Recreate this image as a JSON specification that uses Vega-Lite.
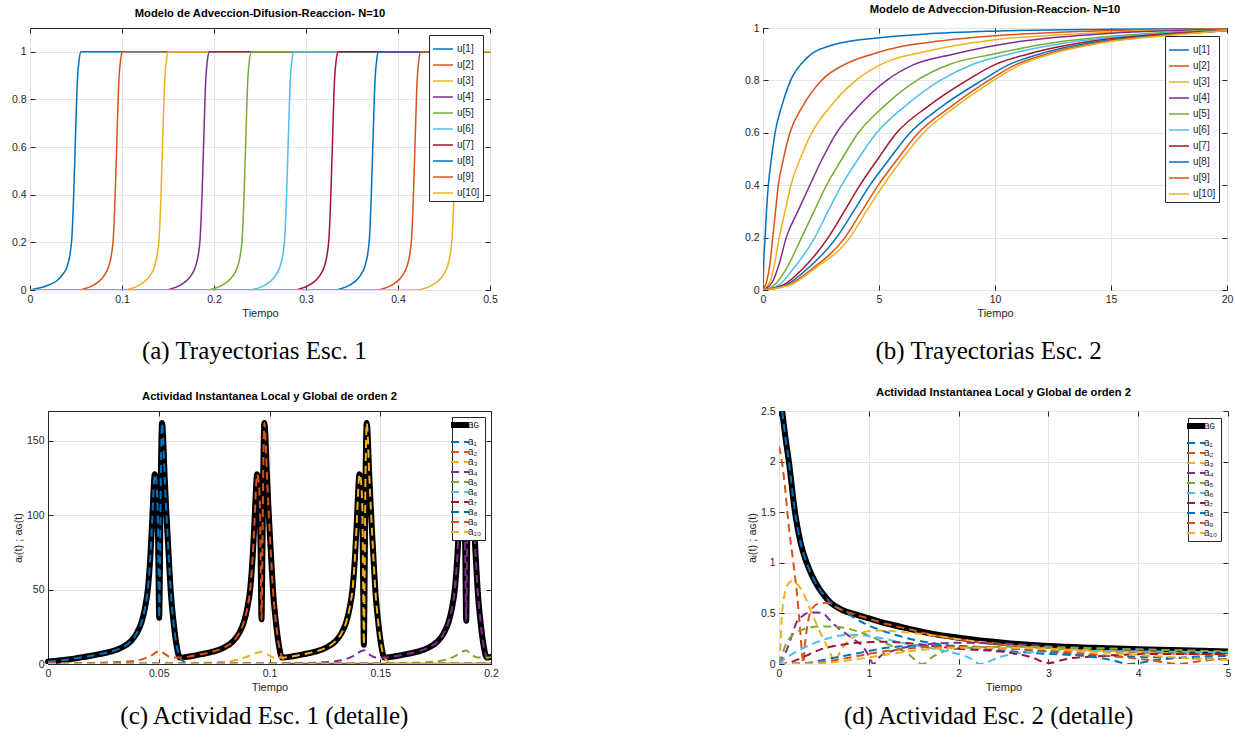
{
"$schema": "https://vega.github.io/schema/vega-lite/v6.json",
"background": "white",
"padding": {"left": 10, "top": 3, "right": 4, "bottom": 2},
"spacing": 22,
"columns": 1,
"align": "none",
"resolve": {"scale": {"color": "independent"}, "legend": {"color": "independent"}},
"config": {
  "font": "Liberation Sans",
  "view": {"stroke": "#262626", "strokeWidth": 1},
  "axis": {"domain": false, "grid": true, "gridColor": "#e4e4e4", "gridWidth": 1, "tickColor": "#262626", "tickSize": -5, "tickWidth": 1, "labelColor": "#262626", "labelFontSize": 10.5, "labelFlush": false, "labelPadding": 9, "titleFontSize": 11, "titleFontWeight": "normal", "titleColor": "#262626", "titlePadding": 3, "domainColor": "#262626", "domainWidth": 1},
  "title": {"fontSize": 11.2, "fontWeight": "bold", "color": "#000000", "offset": 8},
  "legend": {"orient": "top-right", "offset": 7, "padding": 3, "strokeColor": "#262626", "fillColor": "white", "symbolType": "stroke", "symbolSize": 400, "symbolStrokeWidth": 1.5, "labelFontSize": 10, "labelColor": "#262626", "rowPadding": -8.8, "labelOffset": 3}
},
"datasets": {
"A": [
{"s":"u[1]","t":0,"v":0},{"s":"u[1]","t":0.01,"v":0.008},{"s":"u[1]","t":0.0195,"v":0.02},{"s":"u[1]","t":0.0295,"v":0.04},{"s":"u[1]","t":0.0355,"v":0.065},{"s":"u[1]","t":0.0405,"v":0.1},{"s":"u[1]","t":0.0435,"v":0.15},{"s":"u[1]","t":0.0455,"v":0.22},{"s":"u[1]","t":0.0475,"v":0.4},{"s":"u[1]","t":0.0495,"v":0.65},{"s":"u[1]","t":0.0515,"v":0.88},{"s":"u[1]","t":0.0535,"v":0.97},{"s":"u[1]","t":0.0555,"v":1},{"s":"u[1]","t":0.5,"v":1},
{"s":"u[2]","t":0,"v":0},{"s":"u[2]","t":0.0496,"v":0},{"s":"u[2]","t":0.0646,"v":0.012},{"s":"u[2]","t":0.0746,"v":0.035},{"s":"u[2]","t":0.0806,"v":0.06},{"s":"u[2]","t":0.0856,"v":0.1},{"s":"u[2]","t":0.0886,"v":0.15},{"s":"u[2]","t":0.0906,"v":0.22},{"s":"u[2]","t":0.0926,"v":0.4},{"s":"u[2]","t":0.0946,"v":0.65},{"s":"u[2]","t":0.0966,"v":0.88},{"s":"u[2]","t":0.0986,"v":0.97},{"s":"u[2]","t":0.1006,"v":1},{"s":"u[2]","t":0.5,"v":1},
{"s":"u[3]","t":0,"v":0},{"s":"u[3]","t":0.0994,"v":0},{"s":"u[3]","t":0.1144,"v":0.012},{"s":"u[3]","t":0.1244,"v":0.035},{"s":"u[3]","t":0.1304,"v":0.06},{"s":"u[3]","t":0.1354,"v":0.1},{"s":"u[3]","t":0.1384,"v":0.15},{"s":"u[3]","t":0.1404,"v":0.22},{"s":"u[3]","t":0.1424,"v":0.4},{"s":"u[3]","t":0.1444,"v":0.65},{"s":"u[3]","t":0.1464,"v":0.88},{"s":"u[3]","t":0.1484,"v":0.97},{"s":"u[3]","t":0.1504,"v":1},{"s":"u[3]","t":0.5,"v":1},
{"s":"u[4]","t":0,"v":0},{"s":"u[4]","t":0.144,"v":0},{"s":"u[4]","t":0.159,"v":0.012},{"s":"u[4]","t":0.169,"v":0.035},{"s":"u[4]","t":0.175,"v":0.06},{"s":"u[4]","t":0.18,"v":0.1},{"s":"u[4]","t":0.183,"v":0.15},{"s":"u[4]","t":0.185,"v":0.22},{"s":"u[4]","t":0.187,"v":0.4},{"s":"u[4]","t":0.189,"v":0.65},{"s":"u[4]","t":0.191,"v":0.88},{"s":"u[4]","t":0.193,"v":0.97},{"s":"u[4]","t":0.195,"v":1},{"s":"u[4]","t":0.5,"v":1},
{"s":"u[5]","t":0,"v":0},{"s":"u[5]","t":0.1897,"v":0},{"s":"u[5]","t":0.2047,"v":0.012},{"s":"u[5]","t":0.2147,"v":0.035},{"s":"u[5]","t":0.2207,"v":0.06},{"s":"u[5]","t":0.2257,"v":0.1},{"s":"u[5]","t":0.2287,"v":0.15},{"s":"u[5]","t":0.2307,"v":0.22},{"s":"u[5]","t":0.2327,"v":0.4},{"s":"u[5]","t":0.2347,"v":0.65},{"s":"u[5]","t":0.2367,"v":0.88},{"s":"u[5]","t":0.2387,"v":0.97},{"s":"u[5]","t":0.2407,"v":1},{"s":"u[5]","t":0.5,"v":1},
{"s":"u[6]","t":0,"v":0},{"s":"u[6]","t":0.2359,"v":0},{"s":"u[6]","t":0.2509,"v":0.012},{"s":"u[6]","t":0.2609,"v":0.035},{"s":"u[6]","t":0.2669,"v":0.06},{"s":"u[6]","t":0.2719,"v":0.1},{"s":"u[6]","t":0.2749,"v":0.15},{"s":"u[6]","t":0.2769,"v":0.22},{"s":"u[6]","t":0.2789,"v":0.4},{"s":"u[6]","t":0.2809,"v":0.65},{"s":"u[6]","t":0.2829,"v":0.88},{"s":"u[6]","t":0.2849,"v":0.97},{"s":"u[6]","t":0.2869,"v":1},{"s":"u[6]","t":0.5,"v":1},
{"s":"u[7]","t":0,"v":0},{"s":"u[7]","t":0.284,"v":0},{"s":"u[7]","t":0.299,"v":0.012},{"s":"u[7]","t":0.309,"v":0.035},{"s":"u[7]","t":0.315,"v":0.06},{"s":"u[7]","t":0.32,"v":0.1},{"s":"u[7]","t":0.323,"v":0.15},{"s":"u[7]","t":0.325,"v":0.22},{"s":"u[7]","t":0.327,"v":0.4},{"s":"u[7]","t":0.329,"v":0.65},{"s":"u[7]","t":0.331,"v":0.88},{"s":"u[7]","t":0.333,"v":0.97},{"s":"u[7]","t":0.335,"v":1},{"s":"u[7]","t":0.5,"v":1},
{"s":"u[8]","t":0,"v":0},{"s":"u[8]","t":0.328,"v":0},{"s":"u[8]","t":0.343,"v":0.012},{"s":"u[8]","t":0.353,"v":0.035},{"s":"u[8]","t":0.359,"v":0.06},{"s":"u[8]","t":0.364,"v":0.1},{"s":"u[8]","t":0.367,"v":0.15},{"s":"u[8]","t":0.369,"v":0.22},{"s":"u[8]","t":0.371,"v":0.4},{"s":"u[8]","t":0.373,"v":0.65},{"s":"u[8]","t":0.375,"v":0.88},{"s":"u[8]","t":0.377,"v":0.97},{"s":"u[8]","t":0.379,"v":1},{"s":"u[8]","t":0.5,"v":1},
{"s":"u[9]","t":0,"v":0},{"s":"u[9]","t":0.3738,"v":0},{"s":"u[9]","t":0.3888,"v":0.012},{"s":"u[9]","t":0.3988,"v":0.035},{"s":"u[9]","t":0.4048,"v":0.06},{"s":"u[9]","t":0.4098,"v":0.1},{"s":"u[9]","t":0.4128,"v":0.15},{"s":"u[9]","t":0.4148,"v":0.22},{"s":"u[9]","t":0.4168,"v":0.4},{"s":"u[9]","t":0.4188,"v":0.65},{"s":"u[9]","t":0.4208,"v":0.88},{"s":"u[9]","t":0.4228,"v":0.97},{"s":"u[9]","t":0.4248,"v":1},{"s":"u[9]","t":0.5,"v":1},
{"s":"u[10]","t":0,"v":0},{"s":"u[10]","t":0.4178,"v":0},{"s":"u[10]","t":0.4328,"v":0.012},{"s":"u[10]","t":0.4428,"v":0.035},{"s":"u[10]","t":0.4488,"v":0.06},{"s":"u[10]","t":0.4538,"v":0.1},{"s":"u[10]","t":0.4568,"v":0.15},{"s":"u[10]","t":0.4588,"v":0.22},{"s":"u[10]","t":0.4608,"v":0.4},{"s":"u[10]","t":0.4628,"v":0.65},{"s":"u[10]","t":0.4648,"v":0.88},{"s":"u[10]","t":0.4668,"v":0.97},{"s":"u[10]","t":0.4688,"v":1},{"s":"u[10]","t":0.5,"v":1}
],
"B": [
{"s":"u[1]","t":0,"v":0},{"s":"u[1]","t":0.03,"v":0.1},{"s":"u[1]","t":0.09,"v":0.2},{"s":"u[1]","t":0.15,"v":0.3},{"s":"u[1]","t":0.23,"v":0.4},{"s":"u[1]","t":0.36,"v":0.5},{"s":"u[1]","t":0.52,"v":0.6},{"s":"u[1]","t":0.8,"v":0.7},{"s":"u[1]","t":1.19,"v":0.8},{"s":"u[1]","t":1.88,"v":0.885},{"s":"u[1]","t":3,"v":0.935},{"s":"u[1]","t":4.9,"v":0.962},{"s":"u[1]","t":7,"v":0.977},{"s":"u[1]","t":10,"v":0.988},{"s":"u[1]","t":15,"v":0.995},{"s":"u[1]","t":20,"v":0.998},
{"s":"u[2]","t":0,"v":0},{"s":"u[2]","t":0.15,"v":0.03},{"s":"u[2]","t":0.3,"v":0.1},{"s":"u[2]","t":0.42,"v":0.2},{"s":"u[2]","t":0.54,"v":0.3},{"s":"u[2]","t":0.66,"v":0.4},{"s":"u[2]","t":0.88,"v":0.5},{"s":"u[2]","t":1.16,"v":0.6},{"s":"u[2]","t":1.7,"v":0.7},{"s":"u[2]","t":2.52,"v":0.8},{"s":"u[2]","t":3.5,"v":0.86},{"s":"u[2]","t":4.7,"v":0.9},{"s":"u[2]","t":6,"v":0.93},{"s":"u[2]","t":7.6,"v":0.95},{"s":"u[2]","t":10,"v":0.97},{"s":"u[2]","t":15,"v":0.99},{"s":"u[2]","t":20,"v":0.997},
{"s":"u[3]","t":0,"v":0},{"s":"u[3]","t":0.3,"v":0.03},{"s":"u[3]","t":0.5,"v":0.1},{"s":"u[3]","t":0.7,"v":0.2},{"s":"u[3]","t":0.95,"v":0.3},{"s":"u[3]","t":1.2,"v":0.4},{"s":"u[3]","t":1.6,"v":0.5},{"s":"u[3]","t":2.1,"v":0.6},{"s":"u[3]","t":2.9,"v":0.7},{"s":"u[3]","t":4,"v":0.8},{"s":"u[3]","t":5.3,"v":0.87},{"s":"u[3]","t":7,"v":0.91},{"s":"u[3]","t":10,"v":0.955},{"s":"u[3]","t":13,"v":0.975},{"s":"u[3]","t":16,"v":0.988},{"s":"u[3]","t":20,"v":0.996},
{"s":"u[4]","t":0,"v":0},{"s":"u[4]","t":0.4,"v":0.03},{"s":"u[4]","t":0.7,"v":0.1},{"s":"u[4]","t":1,"v":0.2},{"s":"u[4]","t":1.5,"v":0.3},{"s":"u[4]","t":2.02,"v":0.4},{"s":"u[4]","t":2.55,"v":0.5},{"s":"u[4]","t":3.17,"v":0.6},{"s":"u[4]","t":4.1,"v":0.7},{"s":"u[4]","t":5.33,"v":0.8},{"s":"u[4]","t":6.5,"v":0.86},{"s":"u[4]","t":8.2,"v":0.9},{"s":"u[4]","t":11.2,"v":0.95},{"s":"u[4]","t":15,"v":0.98},{"s":"u[4]","t":20,"v":0.995},
{"s":"u[5]","t":0,"v":0},{"s":"u[5]","t":0.5,"v":0.02},{"s":"u[5]","t":1,"v":0.08},{"s":"u[5]","t":1.66,"v":0.2},{"s":"u[5]","t":2.2,"v":0.3},{"s":"u[5]","t":2.74,"v":0.4},{"s":"u[5]","t":3.4,"v":0.5},{"s":"u[5]","t":4.11,"v":0.6},{"s":"u[5]","t":5.2,"v":0.7},{"s":"u[5]","t":6.63,"v":0.8},{"s":"u[5]","t":8,"v":0.86},{"s":"u[5]","t":9.9,"v":0.9},{"s":"u[5]","t":13,"v":0.95},{"s":"u[5]","t":16,"v":0.975},{"s":"u[5]","t":20,"v":0.993},
{"s":"u[6]","t":0,"v":0},{"s":"u[6]","t":0.7,"v":0.02},{"s":"u[6]","t":1.3,"v":0.08},{"s":"u[6]","t":2.23,"v":0.2},{"s":"u[6]","t":2.8,"v":0.3},{"s":"u[6]","t":3.39,"v":0.4},{"s":"u[6]","t":4.1,"v":0.5},{"s":"u[6]","t":4.9,"v":0.6},{"s":"u[6]","t":6.1,"v":0.7},{"s":"u[6]","t":7.64,"v":0.8},{"s":"u[6]","t":9,"v":0.86},{"s":"u[6]","t":10.6,"v":0.9},{"s":"u[6]","t":13.6,"v":0.95},{"s":"u[6]","t":17,"v":0.978},{"s":"u[6]","t":20,"v":0.99},
{"s":"u[7]","t":0,"v":0},{"s":"u[7]","t":0.9,"v":0.02},{"s":"u[7]","t":1.7,"v":0.08},{"s":"u[7]","t":2.81,"v":0.2},{"s":"u[7]","t":3.5,"v":0.3},{"s":"u[7]","t":4.18,"v":0.4},{"s":"u[7]","t":4.95,"v":0.5},{"s":"u[7]","t":5.76,"v":0.6},{"s":"u[7]","t":7.1,"v":0.7},{"s":"u[7]","t":8.79,"v":0.8},{"s":"u[7]","t":10,"v":0.86},{"s":"u[7]","t":11.4,"v":0.9},{"s":"u[7]","t":14.2,"v":0.95},{"s":"u[7]","t":17,"v":0.975},{"s":"u[7]","t":20,"v":0.99},
{"s":"u[8]","t":0,"v":0},{"s":"u[8]","t":1,"v":0.02},{"s":"u[8]","t":1.9,"v":0.08},{"s":"u[8]","t":3.17,"v":0.2},{"s":"u[8]","t":3.9,"v":0.3},{"s":"u[8]","t":4.61,"v":0.4},{"s":"u[8]","t":5.45,"v":0.5},{"s":"u[8]","t":6.34,"v":0.6},{"s":"u[8]","t":7.7,"v":0.7},{"s":"u[8]","t":9.44,"v":0.8},{"s":"u[8]","t":10.6,"v":0.86},{"s":"u[8]","t":11.9,"v":0.9},{"s":"u[8]","t":14.6,"v":0.95},{"s":"u[8]","t":17.5,"v":0.975},{"s":"u[8]","t":20,"v":0.99},
{"s":"u[9]","t":0,"v":0},{"s":"u[9]","t":1.1,"v":0.02},{"s":"u[9]","t":2.1,"v":0.08},{"s":"u[9]","t":3.53,"v":0.2},{"s":"u[9]","t":4.25,"v":0.3},{"s":"u[9]","t":4.97,"v":0.4},{"s":"u[9]","t":5.8,"v":0.5},{"s":"u[9]","t":6.7,"v":0.6},{"s":"u[9]","t":8.1,"v":0.7},{"s":"u[9]","t":9.73,"v":0.8},{"s":"u[9]","t":10.9,"v":0.86},{"s":"u[9]","t":12.2,"v":0.9},{"s":"u[9]","t":14.9,"v":0.95},{"s":"u[9]","t":17.7,"v":0.975},{"s":"u[9]","t":20,"v":0.99},
{"s":"u[10]","t":0,"v":0},{"s":"u[10]","t":1.2,"v":0.02},{"s":"u[10]","t":2.2,"v":0.08},{"s":"u[10]","t":3.75,"v":0.2},{"s":"u[10]","t":4.45,"v":0.3},{"s":"u[10]","t":5.19,"v":0.4},{"s":"u[10]","t":6,"v":0.5},{"s":"u[10]","t":6.92,"v":0.6},{"s":"u[10]","t":8.3,"v":0.7},{"s":"u[10]","t":9.94,"v":0.8},{"s":"u[10]","t":11.1,"v":0.86},{"s":"u[10]","t":12.4,"v":0.9},{"s":"u[10]","t":15.1,"v":0.95},{"s":"u[10]","t":17.9,"v":0.975},{"s":"u[10]","t":20,"v":0.99}
],
"CG": [
{"s":"aɢ","t":0,"v":1.6},{"s":"aɢ","t":0.005,"v":2.3},{"s":"aɢ","t":0.01,"v":3.2},{"s":"aɢ","t":0.014,"v":4.2},
{"s":"aɢ","t":0.0182,"v":5.2},{"s":"aɢ","t":0.0232,"v":6.6},{"s":"aɢ","t":0.0282,"v":8.3},{"s":"aɢ","t":0.0332,"v":11},{"s":"aɢ","t":0.0372,"v":15},{"s":"aɢ","t":0.0402,"v":21},{"s":"aɢ","t":0.0422,"v":28},{"s":"aɢ","t":0.0437,"v":37},{"s":"aɢ","t":0.0452,"v":52},{"s":"aɢ","t":0.0462,"v":72},{"s":"aɢ","t":0.047,"v":95},{"s":"aɢ","t":0.0476,"v":115},{"s":"aɢ","t":0.0482,"v":127.5},
{"s":"aɢ","t":0.0488,"v":124},{"s":"aɢ","t":0.0495,"v":105},{"s":"aɢ","t":0.0499,"v":60},{"s":"aɢ","t":0.0502,"v":31},{"s":"aɢ","t":0.0505,"v":60},{"s":"aɢ","t":0.0509,"v":120},{"s":"aɢ","t":0.0512,"v":150},{"s":"aɢ","t":0.0515,"v":162},{"s":"aɢ","t":0.0519,"v":155},{"s":"aɢ","t":0.0526,"v":128},{"s":"aɢ","t":0.0535,"v":100},{"s":"aɢ","t":0.0544,"v":75},{"s":"aɢ","t":0.0554,"v":49},{"s":"aɢ","t":0.0567,"v":28},{"s":"aɢ","t":0.058,"v":13},{"s":"aɢ","t":0.0595,"v":4.3},
{"s":"aɢ","t":0.0644,"v":5.2},{"s":"aɢ","t":0.0694,"v":6.6},{"s":"aɢ","t":0.0744,"v":8.3},{"s":"aɢ","t":0.0794,"v":11},{"s":"aɢ","t":0.0834,"v":15},{"s":"aɢ","t":0.0864,"v":21},{"s":"aɢ","t":0.0884,"v":28},{"s":"aɢ","t":0.0899,"v":37},{"s":"aɢ","t":0.0914,"v":52},{"s":"aɢ","t":0.0924,"v":72},{"s":"aɢ","t":0.0932,"v":95},{"s":"aɢ","t":0.0938,"v":115},{"s":"aɢ","t":0.0944,"v":127.5},
{"s":"aɢ","t":0.095,"v":124},{"s":"aɢ","t":0.0957,"v":105},{"s":"aɢ","t":0.0961,"v":60},{"s":"aɢ","t":0.0964,"v":30},{"s":"aɢ","t":0.0967,"v":60},{"s":"aɢ","t":0.0971,"v":120},{"s":"aɢ","t":0.0974,"v":150},{"s":"aɢ","t":0.0977,"v":162},{"s":"aɢ","t":0.0981,"v":155},{"s":"aɢ","t":0.0988,"v":128},{"s":"aɢ","t":0.0997,"v":100},{"s":"aɢ","t":0.1006,"v":75},{"s":"aɢ","t":0.1016,"v":49},{"s":"aɢ","t":0.1029,"v":28},{"s":"aɢ","t":0.1042,"v":13},{"s":"aɢ","t":0.1057,"v":4.3},
{"s":"aɢ","t":0.1106,"v":5.2},{"s":"aɢ","t":0.1156,"v":6.6},{"s":"aɢ","t":0.1206,"v":8.3},{"s":"aɢ","t":0.1256,"v":11},{"s":"aɢ","t":0.1296,"v":15},{"s":"aɢ","t":0.1326,"v":21},{"s":"aɢ","t":0.1346,"v":28},{"s":"aɢ","t":0.1361,"v":37},{"s":"aɢ","t":0.1376,"v":52},{"s":"aɢ","t":0.1386,"v":72},{"s":"aɢ","t":0.1394,"v":95},{"s":"aɢ","t":0.14,"v":115},{"s":"aɢ","t":0.1406,"v":127.5},
{"s":"aɢ","t":0.1412,"v":124},{"s":"aɢ","t":0.1419,"v":105},{"s":"aɢ","t":0.1423,"v":50},{"s":"aɢ","t":0.1426,"v":13},{"s":"aɢ","t":0.1429,"v":50},{"s":"aɢ","t":0.1433,"v":120},{"s":"aɢ","t":0.1436,"v":150},{"s":"aɢ","t":0.1439,"v":162},{"s":"aɢ","t":0.1443,"v":155},{"s":"aɢ","t":0.145,"v":128},{"s":"aɢ","t":0.1459,"v":100},{"s":"aɢ","t":0.1468,"v":75},{"s":"aɢ","t":0.1478,"v":49},{"s":"aɢ","t":0.1491,"v":28},{"s":"aɢ","t":0.1504,"v":13},{"s":"aɢ","t":0.1519,"v":4.3},
{"s":"aɢ","t":0.1568,"v":5.2},{"s":"aɢ","t":0.1618,"v":6.6},{"s":"aɢ","t":0.1668,"v":8.3},{"s":"aɢ","t":0.1718,"v":11},{"s":"aɢ","t":0.1758,"v":15},{"s":"aɢ","t":0.1788,"v":21},{"s":"aɢ","t":0.1808,"v":28},{"s":"aɢ","t":0.1823,"v":37},{"s":"aɢ","t":0.1838,"v":52},{"s":"aɢ","t":0.1848,"v":72},{"s":"aɢ","t":0.1856,"v":95},{"s":"aɢ","t":0.1862,"v":115},{"s":"aɢ","t":0.1868,"v":127.5},
{"s":"aɢ","t":0.1874,"v":124},{"s":"aɢ","t":0.1881,"v":105},{"s":"aɢ","t":0.1885,"v":60},{"s":"aɢ","t":0.1888,"v":29},{"s":"aɢ","t":0.1891,"v":60},{"s":"aɢ","t":0.1895,"v":120},{"s":"aɢ","t":0.1898,"v":150},{"s":"aɢ","t":0.1901,"v":162},{"s":"aɢ","t":0.1905,"v":155},{"s":"aɢ","t":0.1912,"v":128},{"s":"aɢ","t":0.1921,"v":100},{"s":"aɢ","t":0.193,"v":75},{"s":"aɢ","t":0.194,"v":49},{"s":"aɢ","t":0.1953,"v":28},{"s":"aɢ","t":0.1966,"v":13},{"s":"aɢ","t":0.1981,"v":4.3},{"s":"aɢ","t":0.2,"v":4.8}
],
"CA": [
{"s":"a₁","t":0,"v":1.6},{"s":"a₁","t":0.005,"v":2.3},{"s":"a₁","t":0.01,"v":3.2},{"s":"a₁","t":0.014,"v":4.2},
{"s":"a₁","t":0.0182,"v":5.2},{"s":"a₁","t":0.0232,"v":6.6},{"s":"a₁","t":0.0282,"v":8.3},{"s":"a₁","t":0.0332,"v":11},{"s":"a₁","t":0.0372,"v":15},{"s":"a₁","t":0.0402,"v":21},{"s":"a₁","t":0.0422,"v":28},{"s":"a₁","t":0.0437,"v":37},{"s":"a₁","t":0.0452,"v":52},{"s":"a₁","t":0.0462,"v":72},{"s":"a₁","t":0.047,"v":95},{"s":"a₁","t":0.0476,"v":115},{"s":"a₁","t":0.0482,"v":127.5},
{"s":"a₁","t":0.0488,"v":124},{"s":"a₁","t":0.0495,"v":105},{"s":"a₁","t":0.0499,"v":60},{"s":"a₁","t":0.0502,"v":31},{"s":"a₁","t":0.0505,"v":60},{"s":"a₁","t":0.0509,"v":120},{"s":"a₁","t":0.0512,"v":150},{"s":"a₁","t":0.0515,"v":162},{"s":"a₁","t":0.0519,"v":155},{"s":"a₁","t":0.0526,"v":128},{"s":"a₁","t":0.0535,"v":100},{"s":"a₁","t":0.0544,"v":75},{"s":"a₁","t":0.0554,"v":49},{"s":"a₁","t":0.0567,"v":28},{"s":"a₁","t":0.058,"v":13},{"s":"a₁","t":0.0595,"v":4.3},
{"s":"a₁","t":0.0605,"v":2.5},{"s":"a₁","t":0.062,"v":0.8},{"s":"a₁","t":0.065,"v":0.2},{"s":"a₁","t":0.2,"v":0.1},
{"s":"a₂","t":0,"v":0.3},{"s":"a₂","t":0.02,"v":0.7},{"s":"a₂","t":0.03,"v":1.2},{"s":"a₂","t":0.036,"v":1.6},{"s":"a₂","t":0.0438,"v":3.8},{"s":"a₂","t":0.047,"v":6},{"s":"a₂","t":0.0502,"v":8.8},{"s":"a₂","t":0.053,"v":6.5},{"s":"a₂","t":0.0558,"v":4.3},{"s":"a₂","t":0.0595,"v":4.3},
{"s":"a₂","t":0.0644,"v":5.2},{"s":"a₂","t":0.0694,"v":6.6},{"s":"a₂","t":0.0744,"v":8.3},{"s":"a₂","t":0.0794,"v":11},{"s":"a₂","t":0.0834,"v":15},{"s":"a₂","t":0.0864,"v":21},{"s":"a₂","t":0.0884,"v":28},{"s":"a₂","t":0.0899,"v":37},{"s":"a₂","t":0.0914,"v":52},{"s":"a₂","t":0.0924,"v":72},{"s":"a₂","t":0.0932,"v":95},{"s":"a₂","t":0.0938,"v":115},{"s":"a₂","t":0.0944,"v":127.5},
{"s":"a₂","t":0.095,"v":124},{"s":"a₂","t":0.0957,"v":105},{"s":"a₂","t":0.0961,"v":60},{"s":"a₂","t":0.0964,"v":30},{"s":"a₂","t":0.0967,"v":60},{"s":"a₂","t":0.0971,"v":120},{"s":"a₂","t":0.0974,"v":150},{"s":"a₂","t":0.0977,"v":162},{"s":"a₂","t":0.0981,"v":155},{"s":"a₂","t":0.0988,"v":128},{"s":"a₂","t":0.0997,"v":100},{"s":"a₂","t":0.1006,"v":75},{"s":"a₂","t":0.1016,"v":49},{"s":"a₂","t":0.1029,"v":28},{"s":"a₂","t":0.1042,"v":13},{"s":"a₂","t":0.1057,"v":4.3},
{"s":"a₂","t":0.1067,"v":2.5},{"s":"a₂","t":0.108,"v":0.8},{"s":"a₂","t":0.111,"v":0.2},{"s":"a₂","t":0.2,"v":0.1},
{"s":"a₃","t":0,"v":0.1},{"s":"a₃","t":0.05,"v":0.3},{"s":"a₃","t":0.07,"v":0.8},{"s":"a₃","t":0.08,"v":1.5},{"s":"a₃","t":0.086,"v":3},{"s":"a₃","t":0.091,"v":5.5},{"s":"a₃","t":0.0964,"v":8.3},{"s":"a₃","t":0.099,"v":6.5},{"s":"a₃","t":0.102,"v":4.3},{"s":"a₃","t":0.1057,"v":4.3},
{"s":"a₃","t":0.1106,"v":5.2},{"s":"a₃","t":0.1156,"v":6.6},{"s":"a₃","t":0.1206,"v":8.3},{"s":"a₃","t":0.1256,"v":11},{"s":"a₃","t":0.1296,"v":15},{"s":"a₃","t":0.1326,"v":21},{"s":"a₃","t":0.1346,"v":28},{"s":"a₃","t":0.1361,"v":37},{"s":"a₃","t":0.1376,"v":52},{"s":"a₃","t":0.1386,"v":72},{"s":"a₃","t":0.1394,"v":95},{"s":"a₃","t":0.14,"v":115},{"s":"a₃","t":0.1406,"v":127.5},
{"s":"a₃","t":0.1412,"v":124},{"s":"a₃","t":0.1419,"v":105},{"s":"a₃","t":0.1423,"v":50},{"s":"a₃","t":0.1426,"v":13},{"s":"a₃","t":0.1429,"v":50},{"s":"a₃","t":0.1433,"v":120},{"s":"a₃","t":0.1436,"v":150},{"s":"a₃","t":0.1439,"v":162},{"s":"a₃","t":0.1443,"v":155},{"s":"a₃","t":0.145,"v":128},{"s":"a₃","t":0.1459,"v":100},{"s":"a₃","t":0.1468,"v":75},{"s":"a₃","t":0.1478,"v":49},{"s":"a₃","t":0.1491,"v":28},{"s":"a₃","t":0.1504,"v":13},{"s":"a₃","t":0.1519,"v":4.3},
{"s":"a₃","t":0.1529,"v":2.5},{"s":"a₃","t":0.1544,"v":0.8},{"s":"a₃","t":0.1574,"v":0.2},{"s":"a₃","t":0.2,"v":0.1},
{"s":"a₄","t":0,"v":0},{"s":"a₄","t":0.1,"v":0.3},{"s":"a₄","t":0.12,"v":0.8},{"s":"a₄","t":0.128,"v":1.5},{"s":"a₄","t":0.134,"v":3},{"s":"a₄","t":0.138,"v":5.5},{"s":"a₄","t":0.1426,"v":9.3},{"s":"a₄","t":0.145,"v":6.5},{"s":"a₄","t":0.148,"v":4.3},{"s":"a₄","t":0.1519,"v":4.3},
{"s":"a₄","t":0.1568,"v":5.2},{"s":"a₄","t":0.1618,"v":6.6},{"s":"a₄","t":0.1668,"v":8.3},{"s":"a₄","t":0.1718,"v":11},{"s":"a₄","t":0.1758,"v":15},{"s":"a₄","t":0.1788,"v":21},{"s":"a₄","t":0.1808,"v":28},{"s":"a₄","t":0.1823,"v":37},{"s":"a₄","t":0.1838,"v":52},{"s":"a₄","t":0.1848,"v":72},{"s":"a₄","t":0.1856,"v":95},{"s":"a₄","t":0.1862,"v":115},{"s":"a₄","t":0.1868,"v":127.5},
{"s":"a₄","t":0.1874,"v":124},{"s":"a₄","t":0.1881,"v":105},{"s":"a₄","t":0.1885,"v":60},{"s":"a₄","t":0.1888,"v":29},{"s":"a₄","t":0.1891,"v":60},{"s":"a₄","t":0.1895,"v":120},{"s":"a₄","t":0.1898,"v":150},{"s":"a₄","t":0.1901,"v":162},{"s":"a₄","t":0.1905,"v":155},{"s":"a₄","t":0.1912,"v":128},{"s":"a₄","t":0.1921,"v":100},{"s":"a₄","t":0.193,"v":75},{"s":"a₄","t":0.194,"v":49},{"s":"a₄","t":0.1953,"v":28},{"s":"a₄","t":0.1966,"v":13},{"s":"a₄","t":0.1981,"v":4.3},
{"s":"a₄","t":0.1991,"v":2.5},{"s":"a₄","t":0.2,"v":1.5},
{"s":"a₅","t":0,"v":0},{"s":"a₅","t":0.15,"v":0.3},{"s":"a₅","t":0.165,"v":0.8},{"s":"a₅","t":0.174,"v":1.5},{"s":"a₅","t":0.18,"v":3},{"s":"a₅","t":0.184,"v":5.5},{"s":"a₅","t":0.1888,"v":9},{"s":"a₅","t":0.191,"v":6.5},{"s":"a₅","t":0.194,"v":4.3},{"s":"a₅","t":0.1981,"v":4.3},{"s":"a₅","t":0.2,"v":4.8},
{"s":"a₆","t":0,"v":0.2},{"s":"a₆","t":0.2,"v":0.2},
{"s":"a₇","t":0,"v":0.2},{"s":"a₇","t":0.2,"v":0.2},
{"s":"a₈","t":0,"v":0.2},{"s":"a₈","t":0.2,"v":0.2},
{"s":"a₉","t":0,"v":0.2},{"s":"a₉","t":0.2,"v":0.2},
{"s":"a₁₀","t":0,"v":0.2},{"s":"a₁₀","t":0.2,"v":0.2}
],
"DG": [
{"s":"aɢ","t":0.035,"v":2.5},{"s":"aɢ","t":0.07,"v":2.25},{"s":"aɢ","t":0.11,"v":2.0},{"s":"aɢ","t":0.178,"v":1.5},{"s":"aɢ","t":0.24,"v":1.2},{"s":"aɢ","t":0.308,"v":1.0},{"s":"aɢ","t":0.37,"v":0.87},{"s":"aɢ","t":0.438,"v":0.758},{"s":"aɢ","t":0.5,"v":0.68},{"s":"aɢ","t":0.568,"v":0.611},{"s":"aɢ","t":0.64,"v":0.565},{"s":"aɢ","t":0.716,"v":0.529},{"s":"aɢ","t":0.85,"v":0.49},{"s":"aɢ","t":1.013,"v":0.448},{"s":"aɢ","t":1.2,"v":0.4},{"s":"aɢ","t":1.44,"v":0.35},{"s":"aɢ","t":1.7,"v":0.3},{"s":"aɢ","t":2,"v":0.26},{"s":"aɢ","t":2.5,"v":0.21},{"s":"aɢ","t":3,"v":0.177},{"s":"aɢ","t":3.5,"v":0.16},{"s":"aɢ","t":4,"v":0.147},{"s":"aɢ","t":4.5,"v":0.135},{"s":"aɢ","t":5,"v":0.124}
],
"DA": [
{"s":"a₁","t":0.035,"v":2.5},{"s":"a₁","t":0.07,"v":2.25},{"s":"a₁","t":0.11,"v":2.0},{"s":"a₁","t":0.178,"v":1.5},{"s":"a₁","t":0.24,"v":1.2},{"s":"a₁","t":0.308,"v":1.0},{"s":"a₁","t":0.37,"v":0.87},{"s":"a₁","t":0.438,"v":0.758},{"s":"a₁","t":0.5,"v":0.68},{"s":"a₁","t":0.568,"v":0.611},{"s":"a₁","t":0.64,"v":0.565},{"s":"a₁","t":0.716,"v":0.529},{"s":"a₁","t":0.85,"v":0.45},{"s":"a₁","t":1,"v":0.38},{"s":"a₁","t":1.25,"v":0.3},{"s":"a₁","t":1.5,"v":0.24},{"s":"a₁","t":2,"v":0.17},{"s":"a₁","t":2.5,"v":0.13},{"s":"a₁","t":3,"v":0.1},{"s":"a₁","t":4,"v":0.07},{"s":"a₁","t":5,"v":0.05},
{"s":"a₂","t":0,"v":2.15},{"s":"a₂","t":0.011,"v":2.11},{"s":"a₂","t":0.067,"v":1.75},{"s":"a₂","t":0.104,"v":1.4},{"s":"a₂","t":0.16,"v":1.0},{"s":"a₂","t":0.2,"v":0.7},{"s":"a₂","t":0.23,"v":0.4},{"s":"a₂","t":0.255,"v":0.12},{"s":"a₂","t":0.27,"v":0.01},{"s":"a₂","t":0.29,"v":0.2},{"s":"a₂","t":0.33,"v":0.45},{"s":"a₂","t":0.38,"v":0.56},{"s":"a₂","t":0.45,"v":0.6},{"s":"a₂","t":0.55,"v":0.605},{"s":"a₂","t":0.64,"v":0.56},{"s":"a₂","t":0.716,"v":0.527},{"s":"a₂","t":0.85,"v":0.487},{"s":"a₂","t":1.013,"v":0.445},{"s":"a₂","t":1.2,"v":0.395},{"s":"a₂","t":1.44,"v":0.345},{"s":"a₂","t":1.7,"v":0.29},{"s":"a₂","t":2,"v":0.245},{"s":"a₂","t":2.5,"v":0.19},{"s":"a₂","t":3,"v":0.155},{"s":"a₂","t":3.5,"v":0.13},{"s":"a₂","t":4,"v":0.115},{"s":"a₂","t":4.5,"v":0.1},{"s":"a₂","t":5,"v":0.09},
{"s":"a₃","t":0,"v":0},{"s":"a₃","t":0.011,"v":0.1},{"s":"a₃","t":0.03,"v":0.45},{"s":"a₃","t":0.06,"v":0.68},{"s":"a₃","t":0.1,"v":0.79},{"s":"a₃","t":0.15,"v":0.82},{"s":"a₃","t":0.2,"v":0.79},{"s":"a₃","t":0.26,"v":0.72},{"s":"a₃","t":0.32,"v":0.6},{"s":"a₃","t":0.38,"v":0.47},{"s":"a₃","t":0.44,"v":0.35},{"s":"a₃","t":0.5,"v":0.24},{"s":"a₃","t":0.56,"v":0.13},{"s":"a₃","t":0.62,"v":0.02},{"s":"a₃","t":0.68,"v":0.12},{"s":"a₃","t":0.76,"v":0.22},{"s":"a₃","t":0.86,"v":0.28},{"s":"a₃","t":0.97,"v":0.32},{"s":"a₃","t":1.1,"v":0.33},{"s":"a₃","t":1.25,"v":0.325},{"s":"a₃","t":1.45,"v":0.31},{"s":"a₃","t":1.7,"v":0.285},{"s":"a₃","t":2,"v":0.245},{"s":"a₃","t":2.5,"v":0.195},{"s":"a₃","t":3,"v":0.16},{"s":"a₃","t":3.5,"v":0.135},{"s":"a₃","t":4,"v":0.12},{"s":"a₃","t":4.5,"v":0.105},{"s":"a₃","t":5,"v":0.095},
{"s":"a₄","t":0,"v":0},{"s":"a₄","t":0.04,"v":0.06},{"s":"a₄","t":0.1,"v":0.17},{"s":"a₄","t":0.15,"v":0.3},{"s":"a₄","t":0.19,"v":0.4},{"s":"a₄","t":0.27,"v":0.48},{"s":"a₄","t":0.35,"v":0.51},{"s":"a₄","t":0.42,"v":0.51},{"s":"a₄","t":0.49,"v":0.5},{"s":"a₄","t":0.56,"v":0.44},{"s":"a₄","t":0.64,"v":0.37},{"s":"a₄","t":0.73,"v":0.31},{"s":"a₄","t":0.82,"v":0.25},{"s":"a₄","t":0.935,"v":0.17},{"s":"a₄","t":1,"v":0.08},{"s":"a₄","t":1.05,"v":0},{"s":"a₄","t":1.12,"v":0.07},{"s":"a₄","t":1.3,"v":0.14},{"s":"a₄","t":1.6,"v":0.19},{"s":"a₄","t":2,"v":0.21},{"s":"a₄","t":2.5,"v":0.2},{"s":"a₄","t":3,"v":0.175},{"s":"a₄","t":3.5,"v":0.158},{"s":"a₄","t":4,"v":0.145},{"s":"a₄","t":4.5,"v":0.133},{"s":"a₄","t":5,"v":0.122},
{"s":"a₅","t":0,"v":0},{"s":"a₅","t":0.03,"v":0.08},{"s":"a₅","t":0.08,"v":0.2},{"s":"a₅","t":0.17,"v":0.3},{"s":"a₅","t":0.3,"v":0.35},{"s":"a₅","t":0.45,"v":0.37},{"s":"a₅","t":0.6,"v":0.37},{"s":"a₅","t":0.71,"v":0.36},{"s":"a₅","t":0.85,"v":0.33},{"s":"a₅","t":1,"v":0.28},{"s":"a₅","t":1.2,"v":0.2},{"s":"a₅","t":1.42,"v":0.11},{"s":"a₅","t":1.6,"v":0},{"s":"a₅","t":1.71,"v":0.07},{"s":"a₅","t":1.86,"v":0.13},{"s":"a₅","t":2.1,"v":0.16},{"s":"a₅","t":2.5,"v":0.17},{"s":"a₅","t":3,"v":0.165},{"s":"a₅","t":3.5,"v":0.155},{"s":"a₅","t":4,"v":0.145},{"s":"a₅","t":4.5,"v":0.135},{"s":"a₅","t":5,"v":0.123},
{"s":"a₆","t":0,"v":0},{"s":"a₆","t":0.06,"v":0.05},{"s":"a₆","t":0.15,"v":0.1},{"s":"a₆","t":0.3,"v":0.17},{"s":"a₆","t":0.53,"v":0.25},{"s":"a₆","t":0.79,"v":0.29},{"s":"a₆","t":1.05,"v":0.27},{"s":"a₆","t":1.42,"v":0.2},{"s":"a₆","t":1.79,"v":0.14},{"s":"a₆","t":2.12,"v":0.06},{"s":"a₆","t":2.24,"v":0},{"s":"a₆","t":2.46,"v":0.07},{"s":"a₆","t":2.72,"v":0.11},{"s":"a₆","t":3.2,"v":0.13},{"s":"a₆","t":4,"v":0.125},{"s":"a₆","t":5,"v":0.115},
{"s":"a₇","t":0,"v":0},{"s":"a₇","t":0.1,"v":0.01},{"s":"a₇","t":0.25,"v":0.06},{"s":"a₇","t":0.45,"v":0.14},{"s":"a₇","t":0.7,"v":0.19},{"s":"a₇","t":0.95,"v":0.215},{"s":"a₇","t":1.2,"v":0.22},{"s":"a₇","t":1.5,"v":0.2},{"s":"a₇","t":2,"v":0.15},{"s":"a₇","t":2.5,"v":0.12},{"s":"a₇","t":2.8,"v":0.07},{"s":"a₇","t":3,"v":0.01},{"s":"a₇","t":3.2,"v":0.05},{"s":"a₇","t":3.6,"v":0.08},{"s":"a₇","t":4.2,"v":0.1},{"s":"a₇","t":5,"v":0.1},
{"s":"a₈","t":0,"v":0},{"s":"a₈","t":0.3,"v":0.01},{"s":"a₈","t":0.6,"v":0.06},{"s":"a₈","t":0.9,"v":0.11},{"s":"a₈","t":1.2,"v":0.16},{"s":"a₈","t":1.5,"v":0.18},{"s":"a₈","t":1.9,"v":0.18},{"s":"a₈","t":2.4,"v":0.16},{"s":"a₈","t":2.9,"v":0.13},{"s":"a₈","t":3.4,"v":0.08},{"s":"a₈","t":3.7,"v":0.04},{"s":"a₈","t":3.9,"v":0},{"s":"a₈","t":4.2,"v":0.04},{"s":"a₈","t":4.6,"v":0.07},{"s":"a₈","t":5,"v":0.08},
{"s":"a₉","t":0,"v":0},{"s":"a₉","t":0.4,"v":0.01},{"s":"a₉","t":0.7,"v":0.05},{"s":"a₉","t":1,"v":0.1},{"s":"a₉","t":1.4,"v":0.15},{"s":"a₉","t":1.8,"v":0.17},{"s":"a₉","t":2.3,"v":0.165},{"s":"a₉","t":2.8,"v":0.14},{"s":"a₉","t":3.3,"v":0.11},{"s":"a₉","t":3.8,"v":0.07},{"s":"a₉","t":4.2,"v":0.03},{"s":"a₉","t":4.45,"v":0},{"s":"a₉","t":4.7,"v":0.03},{"s":"a₉","t":5,"v":0.05},
{"s":"a₁₀","t":0,"v":0},{"s":"a₁₀","t":0.5,"v":0.01},{"s":"a₁₀","t":0.8,"v":0.04},{"s":"a₁₀","t":1.1,"v":0.08},{"s":"a₁₀","t":1.5,"v":0.13},{"s":"a₁₀","t":2,"v":0.16},{"s":"a₁₀","t":2.5,"v":0.16},{"s":"a₁₀","t":3,"v":0.15},{"s":"a₁₀","t":3.5,"v":0.12},{"s":"a₁₀","t":4,"v":0.09},{"s":"a₁₀","t":4.5,"v":0.06},{"s":"a₁₀","t":5,"v":0.04}
]
},
"concat": [
{"hconcat": [
  {"title": {"text": "(a) Trayectorias Esc. 1", "orient": "bottom", "font": "Liberation Serif", "fontSize": 25, "fontWeight": "normal", "color": "#000000", "offset": 20, "anchor": "middle"},
   "resolve": {"scale": {"color": "independent"}, "legend": {"color": "independent"}},
   "vconcat": [{
    "width": 460, "height": 262,
    "title": {"text": "Modelo de Adveccion-Difusion-Reaccion- N=10"},
    "layer": [
     {"data": {"name": "A"},
      "mark": {"type": "line", "strokeWidth": 1.5, "interpolate": "monotone", "clip": true},
      "encoding": {
       "x": {"field": "t", "type": "quantitative", "scale": {"domain": [0, 0.5], "nice": false}, "axis": {"title": "Tiempo", "values": [0, 0.1, 0.2, 0.3, 0.4, 0.5], "format": "~r"}},
       "y": {"field": "v", "type": "quantitative", "scale": {"domain": [0, 1.1], "nice": false}, "axis": {"title": null, "values": [0, 0.2, 0.4, 0.6, 0.8, 1], "format": "~r"}},
       "color": {"field": "s", "type": "nominal", "scale": {"domain": ["u[1]","u[2]","u[3]","u[4]","u[5]","u[6]","u[7]","u[8]","u[9]","u[10]"], "range": ["#0072BD","#D95319","#EDB120","#7E2F8E","#77AC30","#4DBEEE","#A2142F","#0072BD","#D95319","#EDB120"]}, "legend": {"title": null}}
      }},
     {"data": {"name": "A"},
      "mark": {"type": "point", "opacity": 0},
      "encoding": {
       "x": {"field": "t", "type": "quantitative", "scale": {"domain": [0, 0.5], "nice": false}, "axis": {"orient": "top", "title": null, "labels": false, "grid": false, "values": [0, 0.1, 0.2, 0.3, 0.4, 0.5]}},
       "y": {"field": "v", "type": "quantitative", "scale": {"domain": [0, 1.1], "nice": false}, "axis": {"orient": "right", "title": null, "labels": false, "grid": false, "values": [0, 0.2, 0.4, 0.6, 0.8, 1]}}
      }}
    ],
    "resolve": {"axis": {"x": "independent", "y": "independent"}}
   }]
  },
  {"title": {"text": "(b) Trayectorias Esc. 2", "orient": "bottom", "font": "Liberation Serif", "fontSize": 25, "fontWeight": "normal", "color": "#000000", "offset": 20, "anchor": "middle"},
   "resolve": {"scale": {"color": "independent"}, "legend": {"color": "independent"}},
   "vconcat": [{
    "width": 464, "height": 262,
    "title": {"text": "Modelo de Adveccion-Difusion-Reaccion- N=10"},
    "layer": [
     {"data": {"name": "B"},
      "mark": {"type": "line", "strokeWidth": 1.5, "interpolate": "monotone", "clip": true},
      "encoding": {
       "x": {"field": "t", "type": "quantitative", "scale": {"domain": [0, 20], "nice": false}, "axis": {"title": "Tiempo", "values": [0, 5, 10, 15, 20], "format": "~r"}},
       "y": {"field": "v", "type": "quantitative", "scale": {"domain": [0, 1], "nice": false}, "axis": {"title": null, "values": [0, 0.2, 0.4, 0.6, 0.8, 1], "format": "~r"}},
       "color": {"field": "s", "type": "nominal", "scale": {"domain": ["u[1]","u[2]","u[3]","u[4]","u[5]","u[6]","u[7]","u[8]","u[9]","u[10]"], "range": ["#0072BD","#D95319","#EDB120","#7E2F8E","#77AC30","#4DBEEE","#A2142F","#0072BD","#D95319","#EDB120"]}, "legend": {"title": null, "offset": 8}}
      }},
     {"data": {"name": "B"},
      "mark": {"type": "point", "opacity": 0},
      "encoding": {
       "x": {"field": "t", "type": "quantitative", "scale": {"domain": [0, 20], "nice": false}, "axis": {"orient": "top", "title": null, "labels": false, "grid": false, "values": [0, 5, 10, 15, 20]}},
       "y": {"field": "v", "type": "quantitative", "scale": {"domain": [0, 1], "nice": false}, "axis": {"orient": "right", "title": null, "labels": false, "grid": false, "values": [0, 0.2, 0.4, 0.6, 0.8, 1]}}
      }}
    ],
    "resolve": {"axis": {"x": "independent", "y": "independent"}}
   }]
  }
 ], "spacing": 245, "resolve": {"scale": {"color": "independent"}, "legend": {"color": "independent"}}},
{"hconcat": [
  {"title": {"text": "(c) Actividad Esc. 1 (detalle)", "orient": "bottom", "font": "Liberation Serif", "fontSize": 25, "fontWeight": "normal", "color": "#000000", "offset": 11, "anchor": "middle", "dx": 9},
   "resolve": {"scale": {"color": "independent"}, "legend": {"color": "independent"}},
   "vconcat": [{
    "width": 461, "height": 253,
    "view": {"stroke": null},
    "title": {"text": "Actividad Instantanea Local y Global de orden 2", "dx": 9},
    "layer": [
     {"data": {"name": "CG"},
      "mark": {"type": "line", "strokeWidth": 6, "interpolate": "monotone", "clip": true, "strokeJoin": "round", "strokeCap": "round"},
      "encoding": {
       "x": {"field": "t", "type": "quantitative", "scale": {"domain": [0, 0.2], "nice": false, "range": [18, 461]}, "axis": {"title": "Tiempo", "values": [0, 0.05, 0.1, 0.15, 0.2], "format": "~r", "domain": true}},
       "y": {"field": "v", "type": "quantitative", "scale": {"domain": [0, 170], "nice": false}, "axis": {"title": "aᵢ(t) ; aɢ(t)", "values": [0, 50, 100, 150], "format": "~r", "offset": -18, "domain": true}},
       "color": {"field": "s", "type": "nominal", "scale": {"domain": ["aɢ","a₁","a₂","a₃","a₄","a₅","a₆","a₇","a₈","a₉","a₁₀"], "range": ["#000000","#0072BD","#D95319","#EDB120","#7E2F8E","#77AC30","#4DBEEE","#A2142F","#0072BD","#D95319","#EDB120"]},
        "legend": {"title": null, "offset": 6, "padding": 3, "symbolSize": 324, "rowPadding": -3.3, "encode": {"symbols": {"update": {"strokeWidth": {"signal": "datum.value === 'aɢ' ? 6 : 2"}, "strokeDash": {"signal": "datum.value === 'aɢ' ? [1,0] : [8,5]"}}}}}}
      }},
     {"data": {"name": "CA"},
      "mark": {"type": "line", "strokeWidth": 2, "strokeDash": [8, 5], "interpolate": "monotone", "clip": true},
      "encoding": {
       "x": {"field": "t", "type": "quantitative", "scale": {"domain": [0, 0.2], "nice": false, "range": [18, 461]}, "axis": null},
       "y": {"field": "v", "type": "quantitative", "scale": {"domain": [0, 170], "nice": false}, "axis": null},
       "color": {"field": "s", "type": "nominal"}
      }},
     {"data": {"name": "CG"},
      "mark": {"type": "point", "opacity": 0},
      "encoding": {
       "x": {"field": "t", "type": "quantitative", "scale": {"domain": [0, 0.2], "nice": false, "range": [18, 461]}, "axis": {"orient": "top", "title": null, "labels": false, "grid": false, "values": [0, 0.05, 0.1, 0.15, 0.2], "domain": true}},
       "y": {"field": "v", "type": "quantitative", "scale": {"domain": [0, 170], "nice": false}, "axis": {"orient": "right", "title": null, "labels": false, "grid": false, "values": [0, 50, 100, 150], "domain": true}}
      }}
    ],
    "resolve": {"axis": {"x": "independent", "y": "independent"}}
   }]
  },
  {"title": {"text": "(d) Actividad Esc. 2 (detalle)", "orient": "bottom", "font": "Liberation Serif", "fontSize": 25, "fontWeight": "normal", "color": "#000000", "offset": 11, "anchor": "middle"},
   "resolve": {"scale": {"color": "independent"}, "legend": {"color": "independent"}},
   "vconcat": [{
    "width": 449, "height": 253,
    "title": {"text": "Actividad Instantanea Local y Global de orden 2"},
    "layer": [
     {"data": {"name": "DG"},
      "mark": {"type": "line", "strokeWidth": 6, "interpolate": "monotone", "clip": true, "strokeJoin": "round"},
      "encoding": {
       "x": {"field": "t", "type": "quantitative", "scale": {"domain": [0, 5], "nice": false}, "axis": {"title": "Tiempo", "values": [0, 1, 2, 3, 4, 5], "format": "~r"}},
       "y": {"field": "v", "type": "quantitative", "scale": {"domain": [0, 2.5], "nice": false}, "axis": {"title": "aᵢ(t) ; aɢ(t)", "values": [0, 0.5, 1, 1.5, 2, 2.5], "format": "~r"}},
       "color": {"field": "s", "type": "nominal", "scale": {"domain": ["aɢ","a₁","a₂","a₃","a₄","a₅","a₆","a₇","a₈","a₉","a₁₀"], "range": ["#000000","#0072BD","#D95319","#EDB120","#7E2F8E","#77AC30","#4DBEEE","#A2142F","#0072BD","#D95319","#EDB120"]},
        "legend": {"title": null, "offset": 7, "padding": 3, "symbolSize": 324, "rowPadding": -3.3, "encode": {"symbols": {"update": {"strokeWidth": {"signal": "datum.value === 'aɢ' ? 6 : 2"}, "strokeDash": {"signal": "datum.value === 'aɢ' ? [1,0] : [8,5]"}}}}}}
      }},
     {"data": {"name": "DA"},
      "mark": {"type": "line", "strokeWidth": 2, "strokeDash": [8, 5], "interpolate": "monotone", "clip": true},
      "encoding": {
       "x": {"field": "t", "type": "quantitative", "scale": {"domain": [0, 5], "nice": false}, "axis": null},
       "y": {"field": "v", "type": "quantitative", "scale": {"domain": [0, 2.5], "nice": false}, "axis": null},
       "color": {"field": "s", "type": "nominal"}
      }},
     {"data": {"name": "DG"},
      "mark": {"type": "point", "opacity": 0},
      "encoding": {
       "x": {"field": "t", "type": "quantitative", "scale": {"domain": [0, 5], "nice": false}, "axis": {"orient": "top", "title": null, "labels": false, "grid": false, "values": [0, 1, 2, 3, 4, 5]}},
       "y": {"field": "v", "type": "quantitative", "scale": {"domain": [0, 2.5], "nice": false}, "axis": {"orient": "right", "title": null, "labels": false, "grid": false, "values": [0, 0.5, 1, 1.5, 2, 2.5]}}
      }}
    ],
    "resolve": {"axis": {"x": "independent", "y": "independent"}}
   }]
  }
 ], "spacing": 246, "resolve": {"scale": {"color": "independent"}, "legend": {"color": "independent"}}}
]
}
